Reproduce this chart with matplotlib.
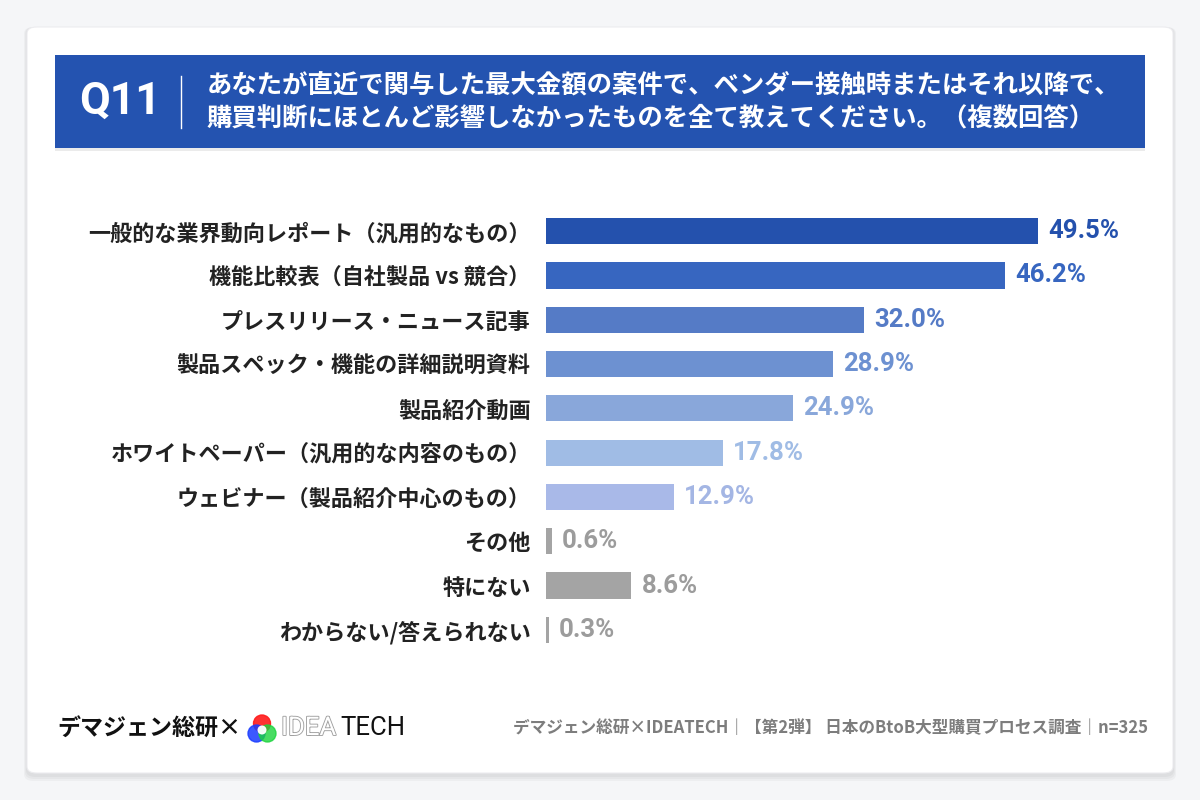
import matplotlib
matplotlib.use("Agg")
import matplotlib.pyplot as plt
import matplotlib.patheffects as pe
from matplotlib.patches import FancyBboxPatch, Rectangle, Circle
from matplotlib.lines import Line2D

plt.rcParams['font.family'] = ['Noto Sans CJK JP', 'DejaVu Sans']

categories = [
    "一般的な業界動向レポート（汎用的なもの）",
    "機能比較表（自社製品 vs 競合）",
    "プレスリリース・ニュース記事",
    "製品スペック・機能の詳細説明資料",
    "製品紹介動画",
    "ホワイトペーパー（汎用的な内容のもの）",
    "ウェビナー（製品紹介中心のもの）",
    "その他",
    "特にない",
    "わからない/答えられない",
]
values = [49.5, 46.2, 32.0, 28.9, 24.9, 17.8, 12.9, 0.6, 8.6, 0.3]
bar_colors = ["#2451ad", "#3766c0", "#557bc6", "#6d91d1", "#89a7da",
              "#a0bce5", "#a9b9e8", "#a4a4a4", "#a4a4a4", "#a4a4a4"]
label_colors = ["#2451ad", "#3766c0", "#557bc6", "#6d91d1", "#89a7da",
                "#a0bce5", "#a4b6e4", "#9c9c9c", "#9c9c9c", "#9c9c9c"]

title_q = "Q11"
title_lines = ["あなたが直近で関与した最大金額の案件で、ベンダー接触時またはそれ以降で、",
               "購買判断にほとんど影響しなかったものを全て教えてください。（複数回答）"]
footer_left = "デマジェン総研×"
footer_right = "デマジェン総研×IDEATECH｜【第2弾】 日本のBtoB大型購買プロセス調査｜n=325"

W, H = 1200, 800
fig = plt.figure(figsize=(12, 8), dpi=100)
fig.patch.set_facecolor("#f5f6f8")

def fx(x): return x / W
def fy(y): return 1 - y / H

# card shadow + card
for i, a in enumerate([0.03, 0.03, 0.03]):
    d = 2 + i * 2
    fig.patches.append(FancyBboxPatch((fx(27 - d / 2), fy(775 + d)), (1146 + d) / W, (748 + d) / H,
                                      boxstyle="round,pad=0,rounding_size=0.008",
                                      transform=fig.transFigure, facecolor="#000000",
                                      alpha=a, edgecolor="none", zorder=0))
fig.patches.append(FancyBboxPatch((fx(27), fy(773)), 1146 / W, 746 / H,
                                  boxstyle="round,pad=0,rounding_size=0.008",
                                  transform=fig.transFigure, facecolor="white",
                                  edgecolor="#ececef", linewidth=0.8, zorder=1))

# header shadow + header
fig.patches.append(Rectangle((fx(55), fy(151)), 1090 / W, 96 / H, transform=fig.transFigure,
                             facecolor="#000000", alpha=0.08, edgecolor="none", zorder=2))
fig.patches.append(Rectangle((fx(55), fy(148)), 1090 / W, 93 / H, transform=fig.transFigure,
                             facecolor="#2453b0", edgecolor="none", zorder=3))
fig.text(fx(79), fy(102), title_q, color="white", fontsize=32, fontweight="bold",
         family=["Roboto", "DejaVu Sans"], va="center", ha="left", zorder=4)
fig.lines.append(Line2D([fx(181), fx(181)], [fy(76), fy(128)], transform=fig.transFigure,
                        color="white", linewidth=1.0, zorder=4))
fig.text(fx(207), fy(85), title_lines[0], color="white", fontsize=18.3, fontweight="bold",
         va="center", ha="left", zorder=4)
fig.text(fx(207), fy(118), title_lines[1], color="white", fontsize=18.3, fontweight="bold",
         va="center", ha="left", zorder=4)

# bar axes
px_per_unit = (1038 - 546) / 49.5
ax_left, ax_right = 546, 1150
ax_top, ax_bot = 209, 652
ax = fig.add_axes([fx(ax_left), fy(ax_bot), (ax_right - ax_left) / W, (ax_bot - ax_top) / H])
ax.set_zorder(5)
ax.patch.set_alpha(0)
n = len(categories)
ypos = list(range(n))
ax.barh(ypos, values, height=0.59, color=bar_colors, edgecolor="none", zorder=3)
ax.set_xlim(0, (ax_right - ax_left) / px_per_unit)
ax.set_ylim(n - 0.5, -0.5)
for s in ax.spines.values():
    s.set_visible(False)
ax.set_xticks([])
ax.set_yticks(ypos)
ax.set_yticklabels(categories, fontsize=15.9, fontweight="bold", color="#222222")
ax.tick_params(axis="y", length=0, pad=11)
for y, v, c in zip(ypos, values, label_colors):
    ax.text(v + 1.0, y, f"{v:.1f}%", va="center", ha="left", fontsize=18.5,
            fontweight="bold", color=c, family=["Roboto", "DejaVu Sans"])

# footer left
fig.text(fx(57), fy(728), footer_left, fontsize=16.6, fontweight="bold", color="#111111",
         va="center", ha="left", zorder=4)
# logo circles
logo_ax = fig.add_axes([fx(246), fy(745), 32 / W, 32 / H])
logo_ax.set_zorder(6)
logo_ax.set_xlim(0, 32); logo_ax.set_ylim(0, 32); logo_ax.axis("off")
logo_ax.add_patch(Circle((16, 21.5), 8.5, color="#ff1a1a", alpha=0.9))
logo_ax.add_patch(Circle((10.5, 11.5), 8.5, color="#1a3cff", alpha=0.85))
logo_ax.add_patch(Circle((21.5, 11.5), 8.5, color="#1ad43c", alpha=0.8))
logo_ax.add_patch(Circle((16, 15), 3.8, color="white", alpha=0.95))
fig.text(fx(281), fy(728), "IDEA", fontsize=18.5, color="white", va="center", ha="left",
         family=["Roboto", "DejaVu Sans"], zorder=4,
         path_effects=[pe.withStroke(linewidth=1.3, foreground="#a0a0a0")])
fig.text(fx(340), fy(728), "TECH", fontsize=18.5, color="#111111", va="center", ha="left",
         family=["Roboto", "DejaVu Sans"], zorder=4)

# footer right
fig.text(fx(1148), fy(728), footer_right, fontsize=12, fontweight="bold", color="#7d7d7d",
         va="center", ha="right", zorder=4)

fig.savefig("out.png", dpi=100, facecolor=fig.get_facecolor())
